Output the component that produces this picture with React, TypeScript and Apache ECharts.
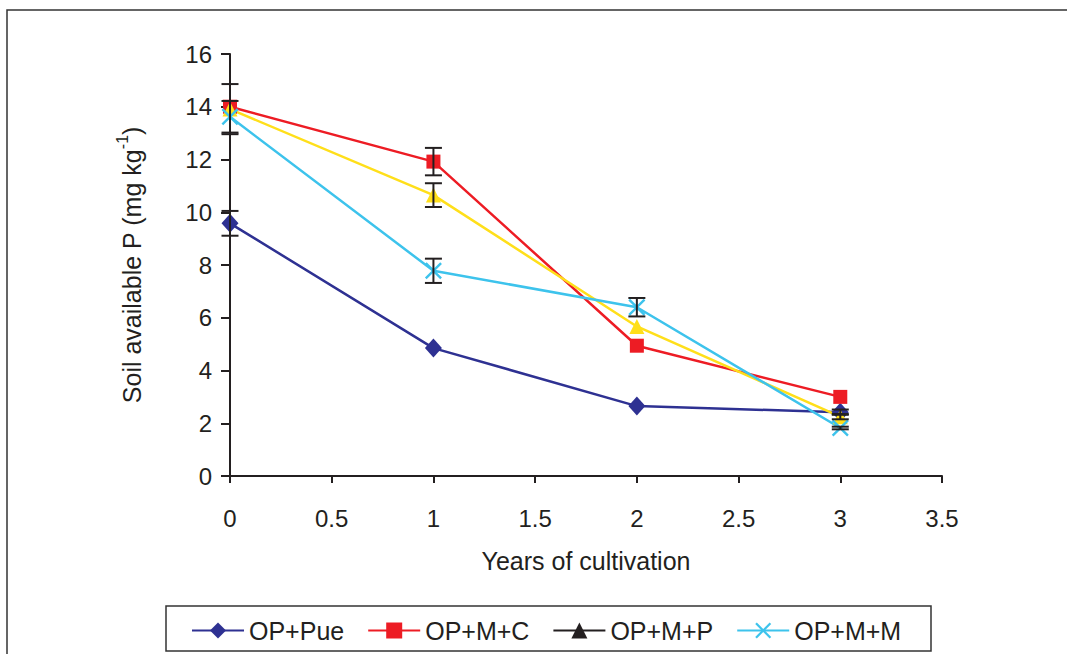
import React, { useEffect, useRef } from "react";
import * as echarts from "echarts";

const years = [0, 1, 2, 3];
const seriesNames = ["OP+Pue", "OP+M+C", "OP+M+P", "OP+M+M"];
const opPue = [9.58, 4.85, 2.65, 2.42];
const opMC = [14.0, 11.92, 4.94, 3.0];
const opMP = [13.91, 10.65, 5.67, 2.25];
const opMM = [13.62, 7.78, 6.4, 1.82];
const errPue = [0.47, 0, 0, 0.1];
const errMC = [0, 0.52, 0, 0];
const errMP = [0.95, 0.45, 0, 0.1];
const errMM = [0.6, 0.46, 0.35, 0.05];
const xTicks = { min: 0, max: 3.5, interval: 0.5 };
const yTicks = { min: 0, max: 16, interval: 2 };

const FONT = "Liberation Sans, Arial, sans-serif";
const INK = "#231F20";
const colors = ["#2E3192", "#ED1C24", "#FFDF1A", "#3DC3EC"];
const symbols = [
  "diamond",
  "rect",
  "triangle",
  "path://M0,1 L1,0 L5,4 L9,0 L10,1 L6,5 L10,9 L9,10 L5,6 L1,10 L0,9 L4,5 Z",
];
const symbolSizes: any[] = [[17, 19], 14, 15, 17];

export default function App() {
  const ref = useRef<HTMLDivElement>(null);
  useEffect(() => {
    if (!ref.current) return;
    const chart = echarts.init(ref.current, undefined, { renderer: "svg" });
    const values = [opPue, opMC, opMP, opMM];
    const errs = [errPue, errMC, errMP, errMM];
    const errData: number[][] = [];
    values.forEach((vals, si) => {
      vals.forEach((v, i) => {
        const e = errs[si][i];
        if (e > 0) errData.push([years[i], v - e, v + e]);
      });
    });
    const lineSeries = seriesNames.map((name, si) => ({
      name,
      type: "line",
      data: years.map((x, i) => [x, values[si][i]]),
      symbol: symbols[si],
      symbolSize: symbolSizes[si],
      lineStyle: { color: colors[si], width: 2.5 },
      itemStyle: { color: colors[si] },
      z: 2,
    }));
    chart.setOption({
      animation: false,
      backgroundColor: "#ffffff",
      textStyle: { fontFamily: FONT },
      grid: { left: 230, top: 54, width: 712, height: 422 },
      xAxis: {
        type: "value",
        min: xTicks.min,
        max: xTicks.max,
        interval: xTicks.interval,
        name: "Years of cultivation",
        nameLocation: "middle",
        nameGap: 72,
        nameTextStyle: { fontSize: 25, color: INK, fontFamily: FONT },
        axisLine: { lineStyle: { color: INK, width: 2 } },
        axisTick: { show: true, inside: false, length: 7, lineStyle: { color: INK, width: 2 } },
        axisLabel: { fontSize: 24, color: INK, margin: 30, fontFamily: FONT },
        splitLine: { show: false },
      },
      yAxis: {
        type: "value",
        min: yTicks.min,
        max: yTicks.max,
        interval: yTicks.interval,
        name: "{a|Soil available P (mg kg}{s|-1}{a|)}",
        nameLocation: "middle",
        nameRotate: 90,
        nameGap: 86,
        nameTextStyle: {
          rich: {
            a: { fontSize: 25, color: INK, fontFamily: FONT, lineHeight: 30, verticalAlign: "bottom" },
            s: { fontSize: 16, color: INK, fontFamily: FONT, verticalAlign: "top", lineHeight: 30 },
          },
        },
        axisLine: { show: true, lineStyle: { color: INK, width: 2 } },
        axisTick: { show: true, inside: false, length: 9, lineStyle: { color: INK, width: 2 } },
        axisLabel: { fontSize: 24, color: INK, margin: 18, fontFamily: FONT },
        splitLine: { show: false },
      },
      legend: {
        left: 186,
        top: 613,
        itemWidth: 52,
        itemHeight: 20,
        itemGap: 23,
        textStyle: { fontSize: 25, color: INK, fontFamily: FONT },
        data: [
          { name: "OP+Pue" },
          { name: "OP+M+C" },
          { name: "OP+M+P", itemStyle: { color: INK }, lineStyle: { color: INK } },
          { name: "OP+M+M" },
        ],
      },
      graphic: [
        {
          type: "rect",
          shape: { x: 7, y: 10, width: 1100, height: 700 },
          style: { fill: "none", stroke: "#333", lineWidth: 1.5 },
          silent: true,
        },
        {
          type: "rect",
          shape: { x: 166, y: 606, width: 765, height: 45 },
          style: { fill: "none", stroke: "#333", lineWidth: 1.5 },
          silent: true,
        },
      ],
      series: [
        ...lineSeries,
        {
          type: "custom",
          name: "errors",
          z: 5,
          data: errData,
          renderItem: (params: any, api: any) => {
            const x = api.value(0);
            const lo = api.coord([x, api.value(1)]);
            const hi = api.coord([x, api.value(2)]);
            const hw = 8.5;
            const style = { stroke: INK, lineWidth: 2 };
            return {
              type: "group",
              children: [
                { type: "line", shape: { x1: lo[0], y1: lo[1], x2: hi[0], y2: hi[1] }, style },
                { type: "line", shape: { x1: lo[0] - hw, y1: lo[1], x2: lo[0] + hw, y2: lo[1] }, style },
                { type: "line", shape: { x1: hi[0] - hw, y1: hi[1], x2: hi[0] + hw, y2: hi[1] }, style },
              ],
            };
          },
        },
      ],
    });
    return () => chart.dispose();
  }, []);
  return (
    <div
      ref={ref}
      style={{ position: "fixed", left: 0, top: 0, width: 1067, height: 654 }}
    />
  );
}
